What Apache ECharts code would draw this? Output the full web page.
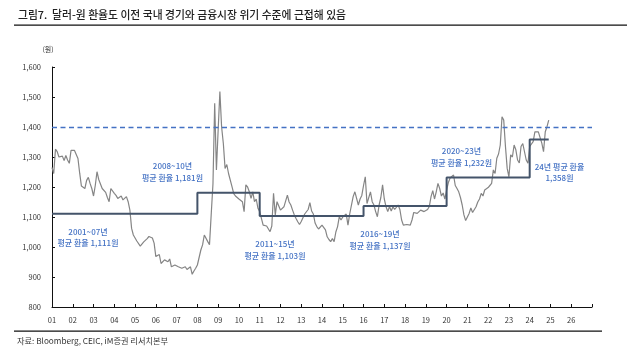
<!DOCTYPE html>
<html>
<head>
<meta charset="utf-8">
<script src="https://cdn.jsdelivr.net/npm/echarts@6/dist/echarts.min.js"></script>
<style>
html,body{margin:0;padding:0;background:#fff;}
#chart{width:627px;height:355px;}
</style>
</head>
<body>
<div id="chart"></div>
<script>
// Month-end USD/KRW (원), Jan..Dec of each year
const r2001 = [1265,1245,1326,1318,1300,1298,1303,1288,1305,1290,1279,1322];
const r2002 = [1326,1322,1320,1295,1246,1203,1198,1195,1222,1232,1212,1195];
const r2003 = [1170,1205,1251,1225,1210,1195,1190,1182,1165,1151,1195,1200];
const r2004 = [1179,1172,1162,1168,1170,1157,1160,1168,1151,1123,1062,1040];
const r2005 = [1034,1020,1017,1003,1008,1017,1022,1028,1035,1040,1030,1013];
const r2006 = [968,962,975,945,940,957,955,951,960,934,936,940];
const r2007 = [938,934,940,929,930,934,925,923,934,909,920,929];
const r2008 = [940,934,990,1007,1040,1045,1018,1008,1110,1210,1479,1257];
const r2009 = [1390,1518,1400,1345,1262,1275,1245,1246,1201,1178,1170,1165];
const r2010 = [1160,1155,1151,1118,1207,1200,1184,1162,1184,1151,1160,1129];
const r2011 = [1118,1120,1073,1079,1070,1068,1051,1070,1179,1107,1151,1157];
const r2012 = [1123,1125,1134,1135,1173,1150,1140,1123,1107,1095,1084,1075];
const r2013 = [1085,1090,1110,1115,1125,1148,1120,1110,1080,1068,1060,1060];
const r2014 = [1073,1070,1057,1034,1025,1018,1028,1018,1050,1068,1101,1090];
const r2015 = [1100,1101,1110,1073,1110,1115,1168,1184,1190,1140,1160,1172];
const r2016 = [1205,1234,1145,1145,1184,1151,1140,1118,1101,1140,1165,1207];
const r2017 = [1160,1134,1118,1135,1120,1134,1125,1130,1140,1125,1090,1073];
const r2018 = [1068,1075,1070,1073,1090,1115,1118,1112,1110,1123,1125,1118];
const r2019 = [1118,1125,1135,1168,1188,1160,1184,1212,1195,1170,1180,1160];
const r2020 = [1190,1215,1230,1230,1240,1205,1195,1184,1165,1140,1107,1088];
const r2021 = [1100,1112,1130,1115,1112,1134,1150,1160,1179,1170,1190,1190];
const r2022 = [1198,1205,1212,1257,1245,1296,1310,1340,1434,1423,1335,1262];
const r2023 = [1234,1307,1300,1340,1324,1290,1280,1335,1345,1351,1290,1279];
const r2024 = [1335,1335,1351,1384,1378,1384,1384,1346,1318,1384,1401,1423];
const startYear = 2001;

// Period averages
const periodStart = [2001, 2008, 2011, 2016, 2020, 2024];
const periodEnd   = [2008, 2011, 2016, 2020, 2024, 2024 + 11/12];
const periodAvg   = [1111, 1181, 1103, 1137, 1232, 1358];
const crisisLevel = 1400;

const annotations = [
  ['2001~07년', '평균 환율 1,111원'],
  ['2008~10년', '평균 환율 1,181원'],
  ['2011~15년', '평균 환율 1,103원'],
  ['2016~19년', '평균 환율 1,137원'],
  ['2020~23년', '평균 환율 1,232원'],
  ['24년 평균 환율', '1,358원']
];

const monthly = [].concat(r2001,r2002,r2003,r2004,r2005,r2006,r2007,r2008,r2009,r2010,r2011,r2012,
  r2013,r2014,r2015,r2016,r2017,r2018,r2019,r2020,r2021,r2022,r2023,r2024);
const rateData = monthly.map((v, i) => [startYear + i / 12, v]);

const stepData = [];
periodStart.forEach((s, i) => {
  stepData.push([s, periodAvg[i]]);
  stepData.push([periodEnd[i], periodAvg[i]]);
});

const FONT = '"Noto Sans CJK KR", "Noto Sans", sans-serif';
const BLUE = '#4472C4';
const annPos = [[88, 237.5], [172.5, 171.8], [275, 250.2], [380, 240], [461.5, 157], [559.5, 172.5]];

const graphics = [
  {type:'text', x:18, y:15, style:{text:'그림7.  달러-원 환율도 이전 국내 경기와 금융시장 위기 수준에 근접해 있음', font:'500 10.8px '+FONT, fill:'#222', textVerticalAlign:'middle'}},
  {type:'rect', shape:{x:14, y:24.5, width:613, height:1.3}, style:{fill:'#111'}},
  {type:'text', x:48, y:49, style:{text:'(원)', font:'7px '+FONT, fill:'#333', textAlign:'center', textVerticalAlign:'middle'}},
  {type:'rect', shape:{x:14, y:330.5, width:588, height:1.2}, style:{fill:'#111'}},
  {type:'text', x:17, y:341, style:{text:'자료: Bloomberg, CEIC, iM증권 리서치본부', font:'8.2px '+FONT, fill:'#333', textVerticalAlign:'middle'}}
];
annotations.forEach((a, i) => {
  graphics.push({type:'text', x:annPos[i][0], y:annPos[i][1],
    style:{text:a[0] + '\n' + a[1], font:'500 8px '+FONT, fill:BLUE, textAlign:'center', textVerticalAlign:'middle', lineHeight:11.8}});
});

const chart = echarts.init(document.getElementById('chart'), null, {renderer:'canvas'});
chart.setOption({
  animation: false,
  backgroundColor: '#fff',
  grid: {left:52, right:35, top:67, bottom:48, containLabel:false},
  xAxis: {
    type:'value', min:2001, max:2027, interval:1,
    axisLine:{show:true, lineStyle:{color:'#111', width:1}},
    axisTick:{show:true, inside:true, length:3, lineStyle:{color:'#111'}},
    splitLine:{show:false},
    axisLabel:{fontSize:7.5, fontFamily:FONT, color:'#333', margin:9,
      formatter: v => v < 2027 ? String(v % 100).padStart(2, '0') : ''}
  },
  yAxis: {
    type:'value', min:800, max:1600, interval:100,
    axisLine:{show:true, lineStyle:{color:'#111', width:1}},
    axisTick:{show:true, inside:true, length:3, lineStyle:{color:'#111'}},
    splitLine:{show:false},
    axisLabel:{fontSize:7.5, fontFamily:FONT, color:'#333', margin:11,
      formatter: v => v.toLocaleString('en-US')}
  },
  series: [
    {
      name:'원/달러 환율', type:'line', data:rateData, symbol:'none',
      lineStyle:{color:'#858585', width:1.2}, z:2,
      markLine:{silent:true, symbol:'none', label:{show:false},
        lineStyle:{color:BLUE, width:1.3, type:[5,3.5]},
        data:[{yAxis:crisisLevel}]}
    },
    {
      name:'기간 평균', type:'line', data:stepData, symbol:'none',
      lineStyle:{color:'#44546A', width:2}, z:3
    }
  ],
  graphic: graphics
});
</script>
</body>
</html>
